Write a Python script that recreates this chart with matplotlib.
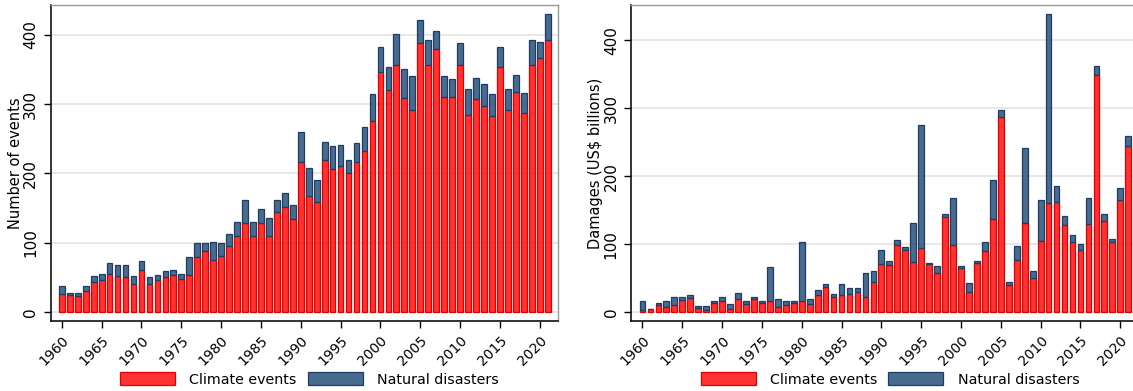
import matplotlib
matplotlib.use("Agg")
import matplotlib.pyplot as plt
import numpy as np

years = list(range(1960, 2022))

# Number of events per year
events_climate = [26.5, 24, 23, 30, 44, 46, 55, 52, 50.5, 40,
                  60, 41, 46, 50.5, 54, 47, 54, 79, 87.6, 75,
                  81, 95, 110, 128.5, 109, 128, 110, 145, 151, 134,
                  216.6, 167.5, 159, 219.5, 206.5, 211, 200, 216.6, 232.5, 275,
                  347, 321, 356, 309, 292, 387.5, 356.7, 379, 310.5, 310.5,
                  356.7, 284.5, 307.6, 297.5, 283, 353.8, 292, 318, 287, 356.7,
                  366.8, 393]
events_total = [37, 28, 28, 37, 52.5, 55, 71, 68, 68, 52.5,
                73, 51, 54, 59, 61, 55, 80, 99, 100, 101.5,
                100, 112, 130, 162, 130, 149, 135, 162, 172, 155,
                260, 208, 190, 246, 239, 241.6, 220, 244.5, 267.6, 315,
                383, 353, 400.5, 351, 340, 420.7, 393, 406, 341, 335.5,
                387.5, 322.5, 337, 329.7, 315, 383, 322.5, 342.7, 316.7, 393,
                389, 429.4]
events_natural = [t - c for t, c in zip(events_total, events_climate)]

# Damages per year, US$ billions
damages_climate = [3, 4, 10, 7, 11, 18, 20.6, 5.4, 3.4, 14,
                   15.7, 4.4, 18.7, 11.8, 19, 13.3, 15.7, 7.4, 10.3, 13.8,
                   15.7, 11.8, 25, 36.9, 22, 24.6, 27, 29.5, 22.6, 44,
                   70.8, 68.8, 99, 91.4, 73.7, 94.8, 70.3, 57.5, 140, 98.8,
                   64.9, 29.5, 71.7, 90, 137.6, 287.5, 39.3, 76.7, 130.7, 50,
                   105, 160.7, 162, 127.8, 102.7, 92, 129.7, 349, 134, 103,
                   165, 244.7]
damages_total = [17, 4.5, 12.8, 17, 21.6, 21.6, 24.6, 8.4, 8.4, 17,
                 21.6, 11.3, 27.5, 15.7, 23, 17, 66.8, 18.7, 15.7, 15.7,
                 102.7, 18.7, 32, 42, 26, 42, 35, 35, 57, 60,
                 91, 74.7, 105.7, 95.3, 130.7, 275, 72.7, 67.3, 144, 167.6,
                 67.3, 42.3, 76, 102.7, 194, 297, 45, 96.8, 241.3, 60,
                 164.6, 438.8, 185, 141, 113, 101, 167.6, 362, 144, 107,
                 182, 259]
damages_natural = [t - c for t, c in zip(damages_total, damages_climate)]

labels = ["Climate events", "Natural disasters"]
xticks = list(range(1960, 2021, 5))

RED_FACE = (1.0, 0.1, 0.1, 0.9)
RED_EDGE = "#e00000"
BLUE_FACE = (0.18, 0.34, 0.50, 0.88)
BLUE_EDGE = "#1d3d63"

plt.rcParams["font.family"] = "DejaVu Sans"

W, H = 1133, 391
fig = plt.figure(figsize=(W / 100, H / 100), dpi=100)

ax_w = 507.3 / W
ax_h = 316 / H
ax_b = (H - 321) / H
ax1 = fig.add_axes([50.7 / W, ax_b, ax_w, ax_h])
ax2 = fig.add_axes([631.3 / W, ax_b, ax_w, ax_h])


def draw(ax, climate, natural, ylabel, ylim):
    x = np.array(years)
    h1 = ax.bar(x, climate, width=0.72, color=RED_FACE, edgecolor=RED_EDGE,
                linewidth=0.9, zorder=3, label=labels[0])
    h2 = ax.bar(x, natural, bottom=climate, width=0.72, color=BLUE_FACE,
                edgecolor=BLUE_EDGE, linewidth=0.9, zorder=3, label=labels[1])
    ax.set_xlim(1958.6, 2022.3)
    ax.set_ylim(*ylim)
    ax.set_yticks([0, 100, 200, 300, 400])
    ax.set_xticks(xticks)
    ax.set_xticklabels([str(t) for t in xticks], rotation=45, ha="right",
                       rotation_mode="anchor", fontsize=10)
    for lab in ax.get_yticklabels():
        lab.set_rotation(90)
        lab.set_va("center")
        lab.set_fontsize(11)
    ax.tick_params(axis="y", length=5, width=1, pad=4)
    ax.tick_params(axis="x", length=5, width=1, pad=4)
    ax.yaxis.grid(True, color="#e2e2e2", linewidth=1.1, zorder=0)
    ax.set_axisbelow(True)
    for side in ("left", "bottom"):
        ax.spines[side].set_color("#111111")
        ax.spines[side].set_linewidth(1.2)
    for side in ("top", "right"):
        ax.spines[side].set_color("#9a9a9a")
        ax.spines[side].set_linewidth(1.0)
    ax.set_ylabel(ylabel, fontsize=10.5)
    ax.yaxis.set_label_coords(-0.055, 0.5)
    ax.legend(handles=[h1, h2], labels=labels, loc="center",
              bbox_to_anchor=(0.51, -0.185), ncol=2, frameon=False,
              fontsize=10.3, handlelength=3.85, handleheight=1.0,
              handletextpad=1.0, columnspacing=0.75,
              borderpad=0, borderaxespad=0)


draw(ax1, events_climate, events_natural, "Number of events", (-13, 443))
draw(ax2, damages_climate, damages_natural, r"Damages (US\$ billions)", (-13, 452))

fig.savefig("out.png", dpi=100)
